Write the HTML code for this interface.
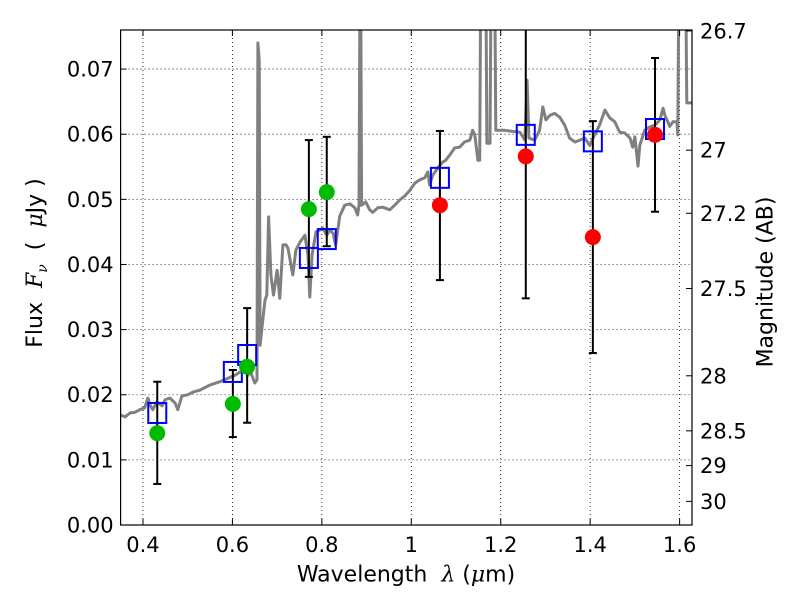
<!DOCTYPE html>
<html><head><meta charset="utf-8"><style>
html,body{margin:0;padding:0;background:#fff;}
svg{display:block;font-family:"DejaVu Sans","Liberation Sans",sans-serif;}
</style></head><body>
<svg id="chart" width="800" height="600" viewBox="0 0 800 600"></svg>
<script>
const specLam=[0.349,0.360,0.371,0.382,0.393,0.404,0.411,0.416,0.422,0.431,0.443,0.449,0.460,0.472,0.478,0.487,0.501,0.512,0.527,0.550,0.572,0.595,0.606,0.617,0.628,0.635,0.639,0.650,0.655,0.657,0.660,0.662,0.668,0.673,0.677,0.681,0.686,0.692,0.700,0.706,0.713,0.720,0.724,0.729,0.735,0.742,0.751,0.762,0.769,0.773,0.778,0.787,0.796,0.802,0.811,0.818,0.825,0.831,0.840,0.851,0.863,0.874,0.880,0.883,0.885,0.887,0.889,0.898,0.907,0.914,0.925,0.936,0.952,0.963,0.974,0.985,0.997,1.008,1.019,1.030,1.037,1.041,1.048,1.059,1.070,1.077,1.086,1.097,1.108,1.119,1.131,1.137,1.142,1.149,1.153,1.155,1.167,1.169,1.176,1.178,1.187,1.189,1.209,1.220,1.243,1.254,1.259,1.263,1.276,1.287,1.294,1.301,1.310,1.321,1.332,1.343,1.354,1.366,1.377,1.388,1.399,1.410,1.421,1.433,1.444,1.455,1.466,1.477,1.489,1.495,1.500,1.507,1.511,1.522,1.533,1.545,1.556,1.563,1.567,1.578,1.585,1.594,1.596,1.598,1.614,1.616,1.634];
const specFlux=[0.0169,0.0166,0.0172,0.0173,0.0177,0.0180,0.0195,0.0184,0.0177,0.0189,0.0183,0.0192,0.0195,0.0187,0.0177,0.0198,0.0200,0.0204,0.0207,0.0215,0.0220,0.0227,0.0230,0.0235,0.0235,0.0230,0.0238,0.0218,0.0223,0.0740,0.0714,0.0276,0.0315,0.0345,0.0353,0.0473,0.0384,0.0353,0.0391,0.0348,0.0430,0.0430,0.0425,0.0407,0.0384,0.0422,0.0434,0.0445,0.0414,0.0350,0.0414,0.0450,0.0453,0.0456,0.0445,0.0453,0.0448,0.0430,0.0474,0.0491,0.0493,0.0487,0.0476,0.0491,0.08,0.08,0.0491,0.0496,0.0484,0.0480,0.0487,0.0488,0.0484,0.0491,0.0499,0.0505,0.0514,0.0525,0.0530,0.0533,0.0542,0.0522,0.0537,0.0548,0.0557,0.0560,0.0568,0.0579,0.0580,0.0588,0.0591,0.0606,0.0599,0.0560,0.0560,0.08,0.08,0.0586,0.0586,0.08,0.08,0.0606,0.0606,0.0605,0.0603,0.0591,0.0683,0.0594,0.0591,0.0606,0.0642,0.0622,0.0629,0.0632,0.0626,0.0614,0.0594,0.0588,0.0591,0.0594,0.0583,0.0599,0.0614,0.0637,0.0625,0.0619,0.0603,0.0602,0.0594,0.0580,0.0596,0.0551,0.0583,0.0606,0.0611,0.0614,0.0622,0.0640,0.0629,0.0612,0.0619,0.0619,0.0599,0.08,0.08,0.0648,0.0648];
const bandLam=[0.432,0.601,0.633,0.771,0.811,1.064,1.256,1.406,1.545];
const obsFlux=[0.0141,0.0186,0.0243,0.0485,0.0511,0.0491,0.0566,0.0442,0.0599];
const errHi=[0.0220,0.0238,0.0333,0.0591,0.0596,0.0605,0.0800,0.0620,0.0717];
const errLo=[0.0063,0.0135,0.0157,0.0381,0.0428,0.0376,0.0348,0.0264,0.0481];
const modelFlux=[0.0172,0.0235,0.0261,0.0410,0.0439,0.0533,0.0599,0.0589,0.0608];
const bandColor=['#00bb00','#00bb00','#00bb00','#00bb00','#00bb00','red','red','red','red'];
const xTicks=[0.4,0.6,0.8,1.0,1.2,1.4,1.6];
const xTickLabels=['0.4','0.6','0.8','1','1.2','1.4','1.6'];
const yTicks=[0,0.01,0.02,0.03,0.04,0.05,0.06,0.07];
const yTickLabels=['0.00','0.01','0.02','0.03','0.04','0.05','0.06','0.07'];
const magTicks=[26.7,27,27.2,27.5,28,28.5,29,30];
const magTickLabels=['26.7','27','27.2','27.5','28','28.5','29','30'];

const L=120.6,R=692,T=30,B=525,X0=0.35,X1=1.6277,Y0=0,Y1=0.076;
const sx=v=>L+(v-X0)/(X1-X0)*(R-L);
const sy=v=>B-(v-Y0)/(Y1-Y0)*(B-T);
const magToFlux=m=>Math.pow(10,(23.9-m)/2.5);
const NS='http://www.w3.org/2000/svg';
const svg=document.getElementById('chart');
function mk(tag,attrs,parent){const e=document.createElementNS(NS,tag);for(const k in attrs)e.setAttribute(k,attrs[k]);(parent||svg).appendChild(e);return e;}

const defs=mk('defs',{});
const cp=mk('clipPath',{id:'clip'},defs);
mk('rect',{x:L,y:T,width:R-L,height:B-T},cp);

const grid=mk('g',{});


xTicks.forEach(v=>{mk('line',{x1:sx(v),x2:sx(v),y1:T,y2:B,stroke:'#000','stroke-width':0.8,'stroke-dasharray':'1,3'},grid);});
yTicks.forEach(v=>{mk('line',{x1:L,x2:R,y1:sy(v),y2:sy(v),stroke:'#000','stroke-width':0.8,'stroke-dasharray':'1,3'},grid);});

const plot=mk('g',{'clip-path':'url(#clip)'});
const d=specLam.map((l,i)=>(i?'L':'M')+sx(l).toFixed(1)+','+sy(specFlux[i]).toFixed(1)).join('');
const sp=mk('path',{d:d,fill:'none',stroke:'#808080','stroke-width':3,'stroke-linejoin':'round'},plot);



bandLam.forEach((l,i)=>{
  const g=mk('g',{},plot);
  
  
  const x=sx(l);
  mk('line',{x1:x,x2:x,y1:sy(errHi[i]),y2:sy(errLo[i]),stroke:'#000','stroke-width':2},g);
  mk('line',{x1:x-4,x2:x+4,y1:sy(errHi[i]),y2:sy(errHi[i]),stroke:'#000','stroke-width':2},g);
  mk('line',{x1:x-4,x2:x+4,y1:sy(errLo[i]),y2:sy(errLo[i]),stroke:'#000','stroke-width':2},g);
});
bandLam.forEach((l,i)=>{
  const r=mk('rect',{x:sx(l)-9,y:sy(modelFlux[i])-10,width:18,height:20,fill:'none',stroke:'#0000ff','stroke-width':2},plot);
  
  
});
bandLam.forEach((l,i)=>{
  const c=mk('circle',{cx:sx(l),cy:sy(obsFlux[i]),r:8,fill:bandColor[i]},plot);
  
  
});

const fr=mk('rect',{x:L,y:T,width:R-L,height:B-T,fill:'none',stroke:'#000','stroke-width':1.2});



xTicks.forEach((v,i)=>{
  const x=sx(v);
  mk('line',{x1:x,x2:x,y1:B,y2:B-6,stroke:'#000'});
  mk('line',{x1:x,x2:x,y1:T,y2:T+6,stroke:'#000'});
  const t=mk('text',{x:x,y:B+27,'text-anchor':'middle','font-size':21});
  t.textContent=xTickLabels[i];
  
  
});
yTicks.forEach((v,i)=>{
  const y=sy(v);
  mk('line',{x1:L,x2:L+6,y1:y,y2:y,stroke:'#000'});
  const t=mk('text',{x:L-7,y:y+7.5,'text-anchor':'end','font-size':21});
  t.textContent=yTickLabels[i];
  
  
});
magTicks.forEach((m,i)=>{
  const y=sy(magToFlux(m));
  mk('line',{x1:R,x2:R-6,y1:y,y2:y,stroke:'#000'});
  const t=mk('text',{x:R+8,y:y+7.5,'text-anchor':'start','font-size':21});
  t.textContent=magTickLabels[i];
  
  
});
</script>
<div style="position:absolute;left:0;top:0;width:800px;height:600px;pointer-events:none;font-family:'DejaVu Sans','Liberation Sans',sans-serif;">
  <div style="position:absolute;left:406px;top:575px;font-size:22px;white-space:nowrap;transform:translate(-50%,-50%);">Wavelength &nbsp;<i style="font-family:'DejaVu Serif','Liberation Serif',serif;">λ</i> (<i style="font-family:'DejaVu Serif','Liberation Serif',serif;">μ</i>m)</div>
  <div style="position:absolute;left:37px;top:263px;font-size:22px;white-space:nowrap;transform:translate(-50%,-50%) rotate(-90deg);">Flux &nbsp;<i style="font-family:'DejaVu Serif','Liberation Serif',serif;">F<sub style="font-size:14px">ν</sub></i> &nbsp;( &nbsp;<i style="font-family:'DejaVu Serif','Liberation Serif',serif;">μ</i>Jy )</div>
  <div style="position:absolute;left:766px;top:282px;font-size:22px;white-space:nowrap;transform:translate(-50%,-50%) rotate(-90deg);">Magnitude (AB)</div>
</div>
</body></html>
